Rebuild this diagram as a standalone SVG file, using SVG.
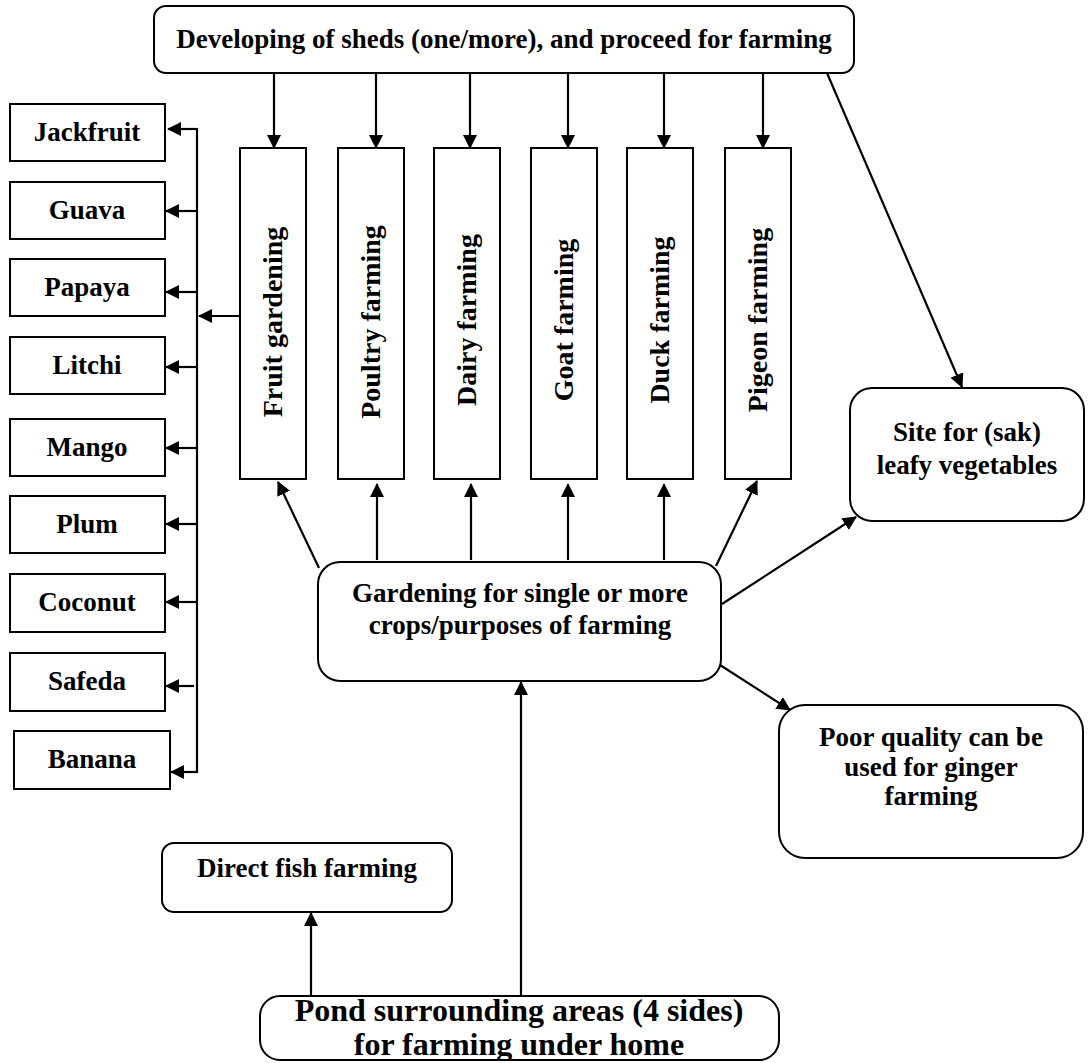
<svg xmlns="http://www.w3.org/2000/svg" width="1092" height="1063" viewBox="0 0 1092 1063">
  <style>
    .box { fill: #fff; stroke: #000; stroke-width: 2; }
    .t { font-family: "Liberation Serif", "Times New Roman", serif; font-weight: bold; font-size: 27px; fill: #000; text-anchor: middle; }
    .vt { font-size: 28px; }
    .big { font-size: 32px; }
    .ln { fill: none; stroke: #000; stroke-width: 2.2; marker-end: url(#ah); }
    .plain { fill: none; stroke: #000; stroke-width: 2.2; }
  </style>
  <defs>
    <marker id="ah" markerUnits="userSpaceOnUse" markerWidth="14" markerHeight="14" viewBox="0 0 14 14" refX="13" refY="7" orient="auto">
      <path d="M0,0 L14,7 L0,14 z" fill="#000"/>
    </marker>
    <clipPath id="pondClip">
      <rect x="262" y="998" width="515" height="61"/>
    </clipPath>
  </defs>
  <rect width="1092" height="1063" fill="#fff"/>

  <!-- connectors -->
  <g id="connectors">
    <!-- sheds to each farming type -->
    <line class="ln" x1="274" y1="73" x2="274" y2="148"/>
    <line class="ln" x1="376" y1="73" x2="376" y2="148"/>
    <line class="ln" x1="470" y1="73" x2="470" y2="148"/>
    <line class="ln" x1="568" y1="73" x2="568" y2="148"/>
    <line class="ln" x1="664" y1="73" x2="664" y2="148"/>
    <line class="ln" x1="763" y1="73" x2="763" y2="148"/>
    <line class="ln" x1="827" y1="73" x2="962" y2="387"/>

    <!-- fruit gardening to the fruit list -->
    <line class="ln" x1="240" y1="316" x2="199" y2="316"/>
    <line class="plain" x1="197" y1="128" x2="197" y2="773"/>
    <line class="ln" x1="198" y1="129" x2="168" y2="129"/>
    <line class="ln" x1="197" y1="211" x2="166" y2="211"/>
    <line class="ln" x1="197" y1="292" x2="166" y2="292"/>
    <line class="ln" x1="197" y1="367" x2="166" y2="367"/>
    <line class="ln" x1="197" y1="448" x2="166" y2="448"/>
    <line class="ln" x1="197" y1="524" x2="166" y2="524"/>
    <line class="ln" x1="197" y1="602" x2="166" y2="602"/>
    <line class="ln" x1="194" y1="686" x2="166" y2="686"/>
    <line class="ln" x1="198" y1="772" x2="171" y2="772"/>

    <!-- gardening to farming types -->
    <line class="ln" x1="319" y1="568" x2="278" y2="482"/>
    <line class="ln" x1="377" y1="560" x2="377" y2="484"/>
    <line class="ln" x1="471" y1="560" x2="471" y2="484"/>
    <line class="ln" x1="568" y1="560" x2="568" y2="484"/>
    <line class="ln" x1="664" y1="560" x2="664" y2="484"/>
    <line class="ln" x1="716" y1="566" x2="757" y2="481"/>
    <line class="ln" x1="722" y1="604" x2="856" y2="517"/>
    <line class="ln" x1="720" y1="665" x2="790" y2="710"/>

    <!-- pond to gardening and fish -->
    <line class="ln" x1="521" y1="996" x2="521" y2="682"/>
    <line class="ln" x1="311" y1="996" x2="311" y2="913"/>
  </g>

  <g id="sheds">
    <rect class="box" x="154" y="6" width="700" height="67" rx="12"/>
    <text class="t" x="504" y="48">Developing of sheds (one/more), and proceed for farming</text>
  </g>

  <g id="fruit-gardening">
    <rect class="box" x="240" y="148" width="66" height="331"/>
    <text class="t vt" transform="translate(273,322) rotate(-90)" y="9">Fruit gardening</text>
  </g>
  <g id="poultry-farming">
    <rect class="box" x="338" y="148" width="66" height="331"/>
    <text class="t vt" transform="translate(371,322) rotate(-90)" y="9">Poultry farming</text>
  </g>
  <g id="dairy-farming">
    <rect class="box" x="434" y="148" width="66" height="331"/>
    <text class="t vt" transform="translate(467,320) rotate(-90)" y="9">Dairy farming</text>
  </g>
  <g id="goat-farming">
    <rect class="box" x="531" y="148" width="66" height="331"/>
    <text class="t vt" transform="translate(564,320) rotate(-90)" y="9">Goat farming</text>
  </g>
  <g id="duck-farming">
    <rect class="box" x="627" y="148" width="66" height="331"/>
    <text class="t vt" transform="translate(660,320) rotate(-90)" y="9">Duck farming</text>
  </g>
  <g id="pigeon-farming">
    <rect class="box" x="725" y="148" width="66" height="331"/>
    <text class="t vt" transform="translate(758,320) rotate(-90)" y="9">Pigeon farming</text>
  </g>

  <g id="jackfruit">
    <rect class="box" x="10" y="104" width="155" height="57"/>
    <text class="t" x="87" y="141">Jackfruit</text>
  </g>
  <g id="guava">
    <rect class="box" x="10" y="182" width="155" height="57"/>
    <text class="t" x="87" y="219">Guava</text>
  </g>
  <g id="papaya">
    <rect class="box" x="10" y="259" width="155" height="57"/>
    <text class="t" x="87" y="296">Papaya</text>
  </g>
  <g id="litchi">
    <rect class="box" x="10" y="337" width="155" height="57"/>
    <text class="t" x="87" y="374">Litchi</text>
  </g>
  <g id="mango">
    <rect class="box" x="10" y="419" width="155" height="57"/>
    <text class="t" x="87" y="456">Mango</text>
  </g>
  <g id="plum">
    <rect class="box" x="10" y="496" width="155" height="57"/>
    <text class="t" x="87" y="533">Plum</text>
  </g>
  <g id="coconut">
    <rect class="box" x="10" y="574" width="155" height="58"/>
    <text class="t" x="87" y="611">Coconut</text>
  </g>
  <g id="safeda">
    <rect class="box" x="10" y="653" width="155" height="58"/>
    <text class="t" x="87" y="690">Safeda</text>
  </g>
  <g id="banana">
    <rect class="box" x="14" y="731" width="156" height="58"/>
    <text class="t" x="92" y="768">Banana</text>
  </g>

  <g id="gardening">
    <rect class="box" x="318" y="562" width="403" height="119" rx="22"/>
    <text class="t" x="520" y="602">Gardening for single or more</text>
    <text class="t" x="520" y="634">crops/purposes of farming</text>
  </g>

  <g id="leafy-vegetables">
    <rect class="box" x="850" y="388" width="234" height="133" rx="22"/>
    <text class="t" x="967" y="441">Site for (sak)</text>
    <text class="t" x="967" y="474">leafy vegetables</text>
  </g>

  <g id="ginger">
    <rect class="box" x="779" y="705" width="304" height="153" rx="26"/>
    <text class="t" x="931" y="746">Poor quality can be</text>
    <text class="t" x="931" y="776">used for ginger</text>
    <text class="t" x="931" y="805">farming</text>
  </g>

  <g id="fish">
    <rect class="box" x="162" y="843" width="290" height="69" rx="12"/>
    <text class="t" x="307" y="877">Direct fish farming</text>
  </g>

  <g id="pond">
    <rect class="box" x="260" y="996" width="519" height="64" rx="20"/>
    <g clip-path="url(#pondClip)">
      <text class="t big" x="519" y="1021">Pond surrounding areas (4 sides)</text>
      <text class="t big" x="519" y="1055">for farming under home</text>
      <text class="t big" x="519" y="1081">gardening</text>
    </g>
  </g>
</svg>
